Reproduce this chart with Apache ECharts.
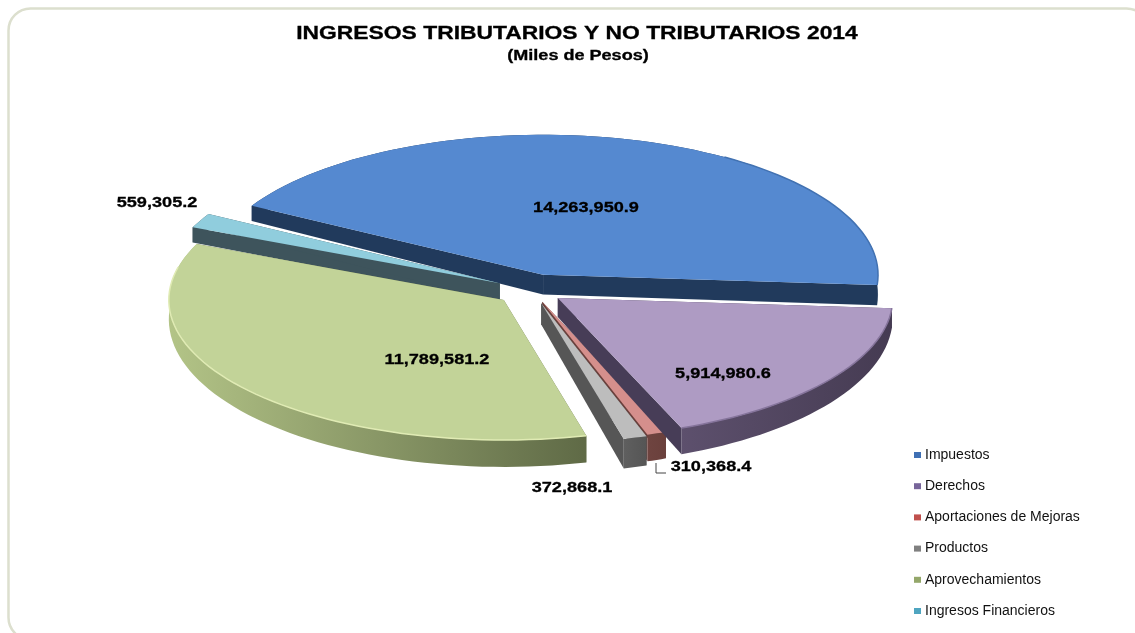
<!DOCTYPE html>
<html>
<head>
<meta charset="utf-8">
<title>Ingresos tributarios y no tributarios 2014</title>
<style>
  html, body { margin: 0; padding: 0; background: #fff; }
  #chart { width: 1135px; height: 633px; }
</style>
<script src="https://cdn.jsdelivr.net/npm/echarts@6/dist/echarts.min.js"></script>
</head>
<body>
<div id="chart"></div>
<script>
const categories = ['Impuestos', 'Derechos', 'Aportaciones de Mejoras', 'Productos', 'Aprovechamientos', 'Ingresos Financieros']
const values = [14263950.9, 5914980.6, 310368.4, 372868.1, 11789581.2, 559305.2]
const valueLabels = ['14,263,950.9', '5,914,980.6', '310,368.4', '372,868.1', '11,789,581.2', '559,305.2']

// look of each slice, same order as categories
const topColors = ['#5589d0', '#ae9bc3', '#d58f8c', '#bdbdbd', '#c2d398', '#90cddd']
const faceColors = ['#213a5c', '#473d57', '#6a403c', '#565656', '#646f4b', '#3e545c']
const rimColors = [['#213a5c', '#213a5c'], ['#5d506d', '#453b52'], ['#6f4440', '#6a403c'], ['#5f5f5f', '#555555'], ['#b3c487', '#5f6a46'], ['#3e545c', '#3e545c']]
const edgeColors = ['#4272b2', '#85749b', null, null, '#e0ebb4', null]
const legendColors = ['#3f70b4', '#77659a', '#c0504d', '#808080', '#94a76a', '#4fa5c0']
const explode = [38, 32, 30, 33, 37, 36]
const depthScale = [1.1, 1, 1, 1.1, 1, 1]
const labelAt = [[586, 208], [723, 374], [711, 467], [572, 488], [437, 360], [157, 203]]
// painter's order, back to front
const drawOrder = [0, 5, 4, 2, 3, 1]

const centerX = 532
const centerY = 290
const radiusX = 335
const radiusY = 140
const startDeg = 150.4
const total = values.reduce((a, b) => a + b, 0)

const rad = d => d * Math.PI / 180
const depthAt = y => 14 + (y - 205) * 0.055

function renderSlice(params, api) {
  const i = drawOrder[params.seriesIndex]
  const from = startDeg - api.value(1) / total * 360
  const to = from - api.value(0) / total * 360
  const mid = (from + to) / 2
  const ax = centerX + explode[i] * Math.cos(rad(mid))
  const ay = centerY - explode[i] * (radiusY / radiusX) * Math.sin(rad(mid))

  const arc = []
  const steps = Math.max(4, Math.ceil((from - to) / 2))
  for (let s = 0; s <= steps; s++) {
    const t = rad(from + (to - from) * s / steps)
    arc.push([ax + radiusX * Math.cos(t), ay - radiusY * Math.sin(t)])
  }
  const sink = p => [p[0], p[1] + depthAt(p[1]) * depthScale[i]]
  const apex = [ax, ay]
  const first = arc[0]
  const last = arc[arc.length - 1]

  const children = [
    { type: 'polygon', shape: { points: [apex, first, sink(first), sink(apex)] }, style: { fill: faceColors[i] } },
    { type: 'polygon', shape: { points: [apex, last, sink(last), sink(apex)] }, style: { fill: faceColors[i] } },
    {
      type: 'polygon',
      shape: { points: arc.concat(arc.map(sink).reverse()) },
      style: {
        fill: new echarts.graphic.LinearGradient(0, 0, 1, 0, [
          { offset: 0, color: rimColors[i][0] },
          { offset: 1, color: rimColors[i][1] }
        ])
      }
    },
    { type: 'polygon', shape: { points: [apex].concat(arc) }, style: { fill: topColors[i] } }
  ]
  if (edgeColors[i]) {
    // only the part of the rim that catches the light
    const lit = i === 0 ? arc.filter(p => p[0] > ax + 180) : arc.filter(p => p[1] > ay - radiusY * 0.25)
    children.push({
      type: 'polyline',
      shape: { points: lit },
      style: { stroke: edgeColors[i], lineWidth: 1.5, fill: 'none' }
    })
  }
  return { type: 'group', children: children }
}

const chart = echarts.init(document.getElementById('chart'), null, { renderer: 'canvas' })

let running = 0
const cumulative = values.map(v => { const c = running; running += v; return c })

function boldText(text, x, y, size, stretch) {
  return {
    type: 'text',
    x: x,
    y: y,
    scaleX: stretch,
    z: 30,
    style: {
      text: text,
      align: 'center',
      verticalAlign: 'middle',
      fontFamily: 'Liberation Sans',
      fontWeight: 'bold',
      fontSize: size,
      fill: '#000',
      stroke: '#000',
      lineWidth: 0.3
    }
  }
}

chart.setOption({
  animation: false,
  backgroundColor: '#ffffff',
  legend: {
    orient: 'vertical',
    left: 914,
    top: 448,
    padding: 0,
    itemGap: 17.2,
    itemWidth: 7,
    itemHeight: 6,
    icon: 'rect',
    data: categories,
    selectedMode: false,
    textStyle: { fontFamily: 'Liberation Sans', fontSize: 14, color: '#111', padding: [0, 0, 0, -1] }
  },
  series: drawOrder.map(i => ({
    type: 'custom',
    name: categories[i],
    coordinateSystem: 'none',
    renderItem: renderSlice,
    silent: true,
    itemStyle: { color: legendColors[i] },
    data: [[values[i], cumulative[i]]]
  })),
  graphic: [
    {
      type: 'rect',
      shape: { x: 8.5, y: 8.5, width: 1140, height: 631, r: 22 },
      style: { fill: 'none', stroke: '#dcdfce', lineWidth: 2.5 },
      z: -1
    },
    {
      type: 'polyline',
      shape: { points: [[656, 463], [656, 473], [666, 473]] },
      style: { stroke: '#444', lineWidth: 1, fill: 'none' },
      z: 20
    },
    boldText('INGRESOS TRIBUTARIOS Y NO TRIBUTARIOS 2014', 577, 34, 18.5, 1.235),
    boldText('(Miles de Pesos)', 578, 56, 14, 1.29)
  ].concat(valueLabels.map((t, i) => boldText(t, labelAt[i][0], labelAt[i][1], 15.5, 1.17)))
})
</script>
</body>
</html>
